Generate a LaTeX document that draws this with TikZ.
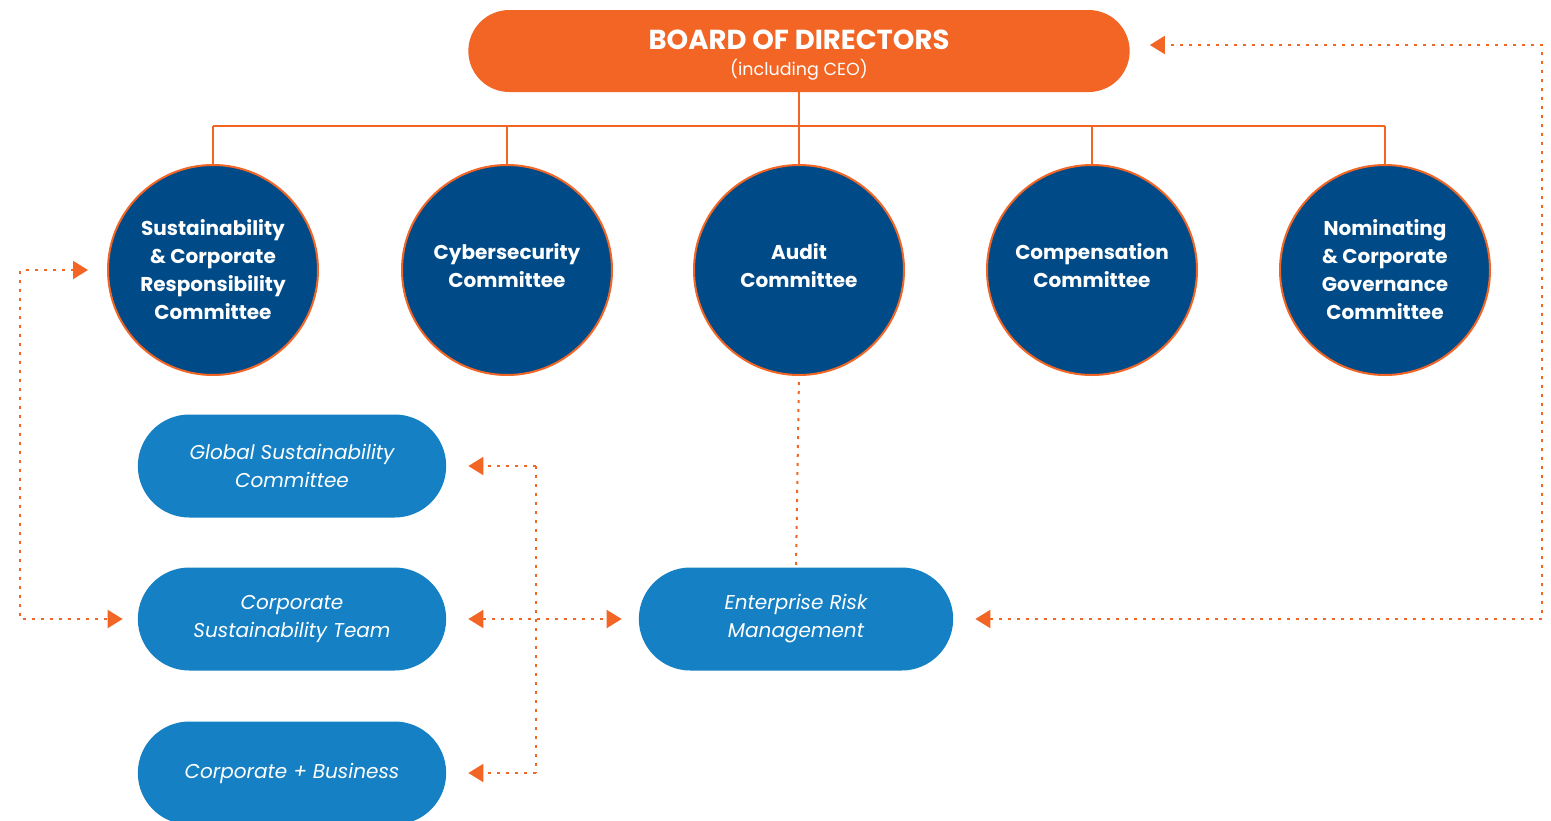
\documentclass[tikz,border=0pt]{standalone}
\usepackage{fontspec}
\setmainfont{Poppins}
\usetikzlibrary{arrows.meta,shapes.misc}
\definecolor{bdorange}{HTML}{F26524}
\definecolor{navy}{HTML}{004B87}
\definecolor{pillblue}{HTML}{1580C4}
\tikzset{
  committee/.style={circle, draw=bdorange, line width=2pt, fill=navy, minimum size=210pt},
  ctext/.style={text=white, align=center, font=\bfseries\fontsize{20}{28}\selectfont},
  pill/.style={rounded rectangle, fill=pillblue, minimum width=315pt, minimum height=103pt,
    text=white, align=center, font=\itshape\fontsize{20}{28}\selectfont},
  treeline/.style={draw=bdorange, line width=2pt},
  dotline/.style={draw=bdorange, line width=2pt, dash pattern=on 3pt off 6pt},
  tip/.tip={Triangle[length=15pt,width=18pt]},
}
\begin{document}
\begin{tikzpicture}[x=1pt,y=-1pt]
\clip (0,0) rectangle (1551,820);
\fill[white] (0,0) rectangle (1551,820);
% board
\node[rounded rectangle, fill=bdorange, minimum width=668pt, minimum height=82pt] (board) at (799,51) {};
\node[text=white, align=center, font=\fontsize{17.5}{26}\selectfont] (boardtext) at ([yshift=-4pt]board.center)
  {{\bfseries\fontsize{27.5}{26}\selectfont BOARD OF DIRECTORS}\\(including CEO)};
% committees
\node[committee] (sust) at (213,270) {};
\node[committee] (cyber) at (507,270) {};
\node[committee] (audit) at (799,270) {};
\node[committee] (comp) at (1092,270) {};
\node[committee] (nom) at (1385,270) {};
\node[ctext] (sust-t) at (sust.center) {Sustainability\\\& Corporate\\Responsibility\\Committee};
\node[ctext] (cyber-t) at ([yshift=4pt]cyber.center) {Cybersecurity\\Committee};
\node[ctext] (audit-t) at ([yshift=4pt]audit.center) {Audit\\Committee};
\node[ctext] (comp-t) at ([yshift=4pt]comp.center) {Compensation\\Committee};
\node[ctext] (nom-t) at (nom.center) {Nominating\\\& Corporate\\Governance\\Committee};
% pills
\node[pill] (gsc) at (292,466) {Global Sustainability\\Committee};
\node[pill] (cst) at (292,619) {Corporate\\Sustainability Team};
\node[pill] (cb) at (292,773) {Corporate + Business};
\node[pill, minimum width=321pt] (erm) at (796,619) {Enterprise Risk\\Management};
% tree
\coordinate (hy) at (0,126);
\draw[treeline] (board.south) -- (board.south |- hy);
\draw[treeline] (sust.north |- hy) -- (nom.north |- hy);
\foreach \c in {sust,cyber,audit,comp,nom} \draw[treeline] (\c.north |- hy) -- (\c.north);
% left loop
\coordinate (lx) at (20,0);
\draw[dotline, tip-tip, shorten <=19pt, shorten >=15pt] (sust.west) -- (sust.west -| lx) -- (cst.west -| lx) -- (cst.west);
% middle
\coordinate (mx) at (536,0);
\draw[dotline] (gsc.east -| mx) -- (cb.east -| mx);
\draw[dotline, -tip, shorten >=22pt] (gsc.east -| mx) -- (gsc.east);
\draw[dotline, -tip, shorten >=22pt] (cb.east -| mx) -- (cb.east);
\draw[dotline, tip-tip, shorten <=22pt, shorten >=17pt] (cst.east) -- (erm.west);
% audit to ERM
\draw[dotline, shorten <=6pt] (audit.south) -- (erm.north);
% right loop
\coordinate (rx) at (1542,0);
\coordinate (bt) at ([yshift=6pt]board.east);
\draw[dotline, tip-tip, shorten <=22pt, shorten >=20pt] (erm.east) -- (erm.east -| rx) -- (bt -| rx) -- (bt);
\end{tikzpicture}
\end{document}
